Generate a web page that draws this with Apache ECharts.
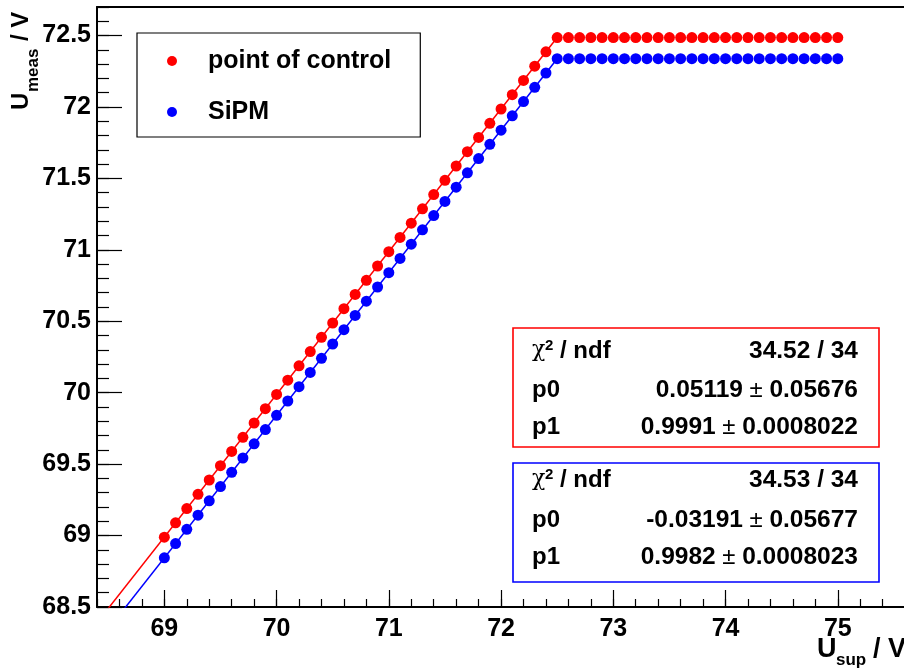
<!DOCTYPE html>
<html><head><meta charset="utf-8">
<script src="https://cdn.jsdelivr.net/npm/echarts@6/dist/echarts.min.js"></script>
<style>html,body{margin:0;padding:0;background:#fff}#c{width:904px;height:668px}</style>
</head><body><div id="c"></div>
<script>
// ---- data ----
const seriesNames = ['point of control', 'SiPM'];
const xValues = [69.0,69.1,69.2,69.3,69.4,69.5,69.6,69.7,69.8,69.9,
  70.0,70.1,70.2,70.3,70.4,70.5,70.6,70.7,70.8,70.9,
  71.0,71.1,71.2,71.3,71.4,71.5,71.6,71.7,71.8,71.9,
  72.0,72.1,72.2,72.3,72.4,72.5,72.6,72.7,72.8,72.9,
  73.0,73.1,73.2,73.3,73.4,73.5,73.6,73.7,73.8,73.9,
  74.0,74.1,74.2,74.3,74.4,74.5,74.6,74.7,74.8,74.9,
  75.0];
const redValues = [68.989,69.089,69.189,69.289,69.389,69.489,69.589,69.688,69.788,69.888,
  69.988,70.088,70.188,70.288,70.388,70.488,70.588,70.688,70.787,70.887,
  70.987,71.087,71.187,71.287,71.387,71.487,71.587,71.687,71.787,71.886,
  71.986,72.086,72.186,72.286,72.386,72.486,72.486,72.486,72.486,72.486,
  72.486,72.486,72.486,72.486,72.486,72.486,72.486,72.486,72.486,72.486,
  72.486,72.486,72.486,72.486,72.486,72.486,72.486,72.486,72.486,72.486,
  72.486];
const blueValues = [68.844,68.944,69.044,69.143,69.243,69.343,69.443,69.543,69.642,69.742,
  69.842,69.942,70.042,70.142,70.241,70.341,70.441,70.541,70.641,70.740,
  70.840,70.940,71.040,71.140,71.240,71.339,71.439,71.539,71.639,71.739,
  71.838,71.938,72.038,72.138,72.238,72.338,72.338,72.338,72.338,72.338,
  72.338,72.338,72.338,72.338,72.338,72.338,72.338,72.338,72.338,72.338,
  72.338,72.338,72.338,72.338,72.338,72.338,72.338,72.338,72.338,72.338,
  72.338];
// fit lines (endpoints of the linear fits)
const fitX = [68.4, 72.5];
const redFitY = [68.390, 72.486];
const blueFitY = [68.245, 72.338];
// axis ticks
const xMajorTicks = [69,70,71,72,73,74,75];
const xMinorTicks = [68.4,68.6,68.8,69.0,69.2,69.4,69.6,69.8,70.0,70.2,70.4,70.6,70.8,71.0,71.2,71.4,71.6,71.8,
  72.0,72.2,72.4,72.6,72.8,73.0,73.2,73.4,73.6,73.8,74.0,74.2,74.4,74.6,74.8,75.0,75.2,75.4];
const yMajorTicks = [68.5,69,69.5,70,70.5,71,71.5,72,72.5];
const yMinorTicks = [68.5,68.6,68.7,68.8,68.9,69.0,69.1,69.2,69.3,69.4,69.5,69.6,69.7,69.8,69.9,
  70.0,70.1,70.2,70.3,70.4,70.5,70.6,70.7,70.8,70.9,71.0,71.1,71.2,71.3,71.4,71.5,71.6,71.7,71.8,71.9,
  72.0,72.1,72.2,72.3,72.4,72.5,72.6,72.7];
// stat boxes text
const redStats = [['34.52 / 34'], ['0.05119', '0.05676'], ['0.9991', '0.0008022']];
const blueStats = [['34.53 / 34'], ['-0.03191', '0.05677'], ['0.9982', '0.0008023']];

// ---- chart ----
const FONT = '"Liberation Sans", Arial, sans-serif';
const chart = echarts.init(document.getElementById('c'), null, {renderer: 'canvas'});

function pairs(xs, ys) { return xs.map((x, i) => [x, ys[i]]); }

function txt(x, y, text, o) {
  return {type: 'text', x: x, y: y, z: 100,
    style: Object.assign({text: text, fontFamily: FONT, fontSize: 23, fontWeight: 'bold',
      fill: '#000', align: 'left', verticalAlign: 'middle'}, o || {})};
}
const richStyle = {
  b: {fontFamily: FONT, fontSize: 24.5, fontWeight: 'bold', fill: '#000'},
  pm: {fontFamily: FONT, fontSize: 24, fontWeight: 'normal', fill: '#000'}
};
function statBox(top, color, stats, rows) {
  const els = [];
  els.push({type: 'rect', z: 99, shape: {x: 513, y: top, width: 366, height: 119},
    style: {fill: '#fff', stroke: color, lineWidth: 1.6}});
  els.push(txt(532, rows[0] - 1, 'χ', {fontFamily: '"DejaVu Serif", serif', fontWeight: 'normal', fontSize: 22}));
  els.push(txt(545, rows[0] - 6, '2', {fontSize: 15}));
  els.push(txt(560, rows[0], '/ ndf', {fontSize: 24}));
  els.push(txt(532, rows[1], 'p0', {fontSize: 24}));
  els.push(txt(532, rows[2], 'p1', {fontSize: 24}));
  els.push(txt(858, rows[0], stats[0][0], {align: 'right', fontSize: 24.5}));
  for (let k = 1; k < 3; k++) {
    els.push(txt(858, rows[k], '{b|' + stats[k][0] + '}{pm| ± }{b|' + stats[k][1] + '}',
      {align: 'right', rich: richStyle}));
  }
  return els;
}

const axisTextStyle = {color: '#000', fontSize: 25, fontWeight: 'bold', fontFamily: FONT};
const X_MIN = 68.4, X_MAX = 75.59, Y_MIN = 68.5, Y_MAX = 72.7;

const option = {
  animation: false,
  backgroundColor: '#fff',
  grid: {left: 97, top: 7, right: 0, height: 600, show: false},
  xAxis: [
    {type: 'value', min: X_MIN, max: X_MAX, position: 'bottom',
      axisLine: {show: true, onZero: false, lineStyle: {color: '#000', width: 2}},
      splitLine: {show: false},
      axisTick: {show: true, inside: true, length: 17, customValues: xMajorTicks, lineStyle: {color: '#000', width: 1.2}},
      axisLabel: Object.assign({customValues: xMajorTicks, margin: 10}, axisTextStyle)},
    {type: 'value', min: X_MIN, max: X_MAX, position: 'bottom',
      axisLine: {show: false, onZero: false}, splitLine: {show: false}, axisLabel: {show: false},
      axisTick: {show: true, inside: true, length: 8, customValues: xMinorTicks, lineStyle: {color: '#000', width: 1.2}}},
    {type: 'value', min: X_MIN, max: X_MAX, position: 'top',
      axisLine: {show: true, onZero: false, lineStyle: {color: '#000', width: 2}},
      splitLine: {show: false}, axisLabel: {show: false}, axisTick: {show: false}}
  ],
  yAxis: [
    {type: 'value', min: Y_MIN, max: Y_MAX, position: 'left',
      axisLine: {show: true, onZero: false, lineStyle: {color: '#000', width: 2}},
      splitLine: {show: false},
      axisTick: {show: true, inside: true, length: 25, customValues: yMajorTicks, lineStyle: {color: '#000', width: 1.2}},
      axisLabel: Object.assign({customValues: yMajorTicks, margin: 6, padding: [5, 0, 0, 0]}, axisTextStyle)},
    {type: 'value', min: Y_MIN, max: Y_MAX, position: 'left',
      axisLine: {show: false, onZero: false}, splitLine: {show: false}, axisLabel: {show: false},
      axisTick: {show: true, inside: true, length: 12, customValues: yMinorTicks, lineStyle: {color: '#000', width: 1.2}}}
  ],
  legend: {
    left: 137, top: 33, orient: 'vertical', data: seriesNames, icon: 'circle',
    itemWidth: 62, itemHeight: 10, itemGap: 25, padding: [15, 29, 12, 30],
    borderColor: '#000', borderWidth: 1.2, backgroundColor: '#fff',
    textStyle: {fontSize: 25, fontWeight: 'bold', fontFamily: FONT, color: '#000', lineHeight: 26}
  },
  series: [
    {name: seriesNames[0], type: 'scatter', data: pairs(xValues, redValues), symbol: 'circle', symbolSize: 11,
      itemStyle: {color: '#ff0000', opacity: 1}, z: 3},
    {name: seriesNames[1], type: 'scatter', data: pairs(xValues, blueValues), symbol: 'circle', symbolSize: 11,
      itemStyle: {color: '#0000ff', opacity: 1}, z: 3},
    {type: 'line', data: pairs(fitX, redFitY), symbol: 'none', clip: true,
      lineStyle: {color: '#ff0000', width: 1.5}, z: 2},
    {type: 'line', data: pairs(fitX, blueFitY), symbol: 'none', clip: true,
      lineStyle: {color: '#0000ff', width: 1.5}, z: 2}
  ],
  graphic: [].concat(
    statBox(328, '#ff0000', redStats, [351.5, 390, 427.5]),
    statBox(463, '#0000ff', blueStats, [480.5, 520, 557.5]),
    [
      // x-axis title
      txt(817, 650, 'U', {fontSize: 27}),
      txt(836, 660, 'sup', {fontSize: 17}),
      txt(873, 650, '/ V', {fontSize: 27}),
      // y-axis title (rotated)
      {type: 'group', x: 21.5, y: 110, rotation: Math.PI / 2, children: [
        txt(0, 0, 'U', {fontSize: 24}),
        txt(18, 12, 'meas', {fontSize: 17}),
        txt(69, 0, '/ V', {fontSize: 24})
      ]}
    ])
};
chart.setOption(option);
</script></body></html>
